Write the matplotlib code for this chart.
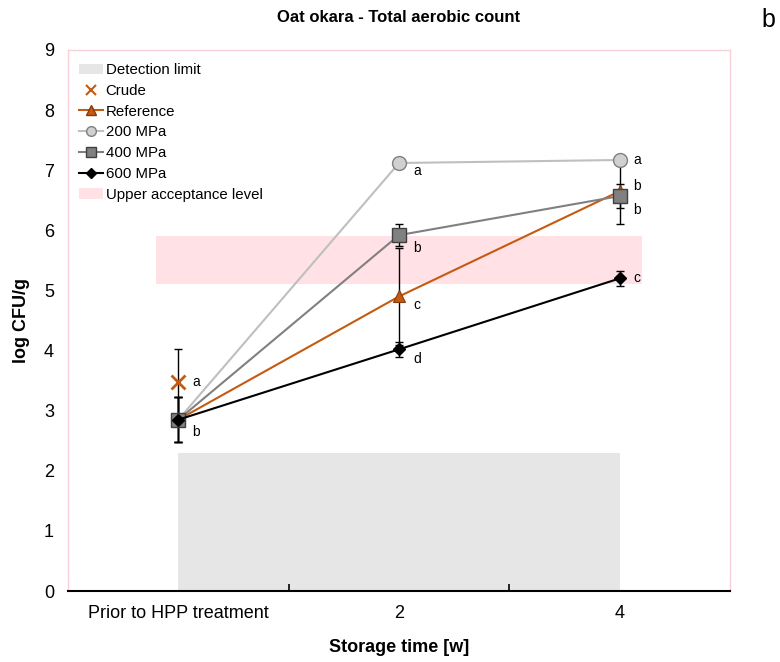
import matplotlib
matplotlib.use("Agg")
import matplotlib.pyplot as plt
from matplotlib.patches import Patch
from matplotlib.lines import Line2D

plt.rcParams['font.family'] = ['Liberation Sans', 'DejaVu Sans']

categories = ["Prior to HPP treatment", "2", "4"]
crude = [3.48]
crude_err = [0.55]
reference = [2.85, 4.90, 6.65]
reference_err = [0.37, 0.80, 0.55]
mpa200 = [2.85, 7.12, 7.17]
mpa200_err = [0.37, 0.05, 0.08]
mpa400 = [2.85, 5.92, 6.57]
mpa400_err = [0.37, 0.18, 0.20]
mpa600 = [2.85, 4.02, 5.20]
mpa600_err = [0.37, 0.12, 0.12]
detection_limit = 2.3
acceptance_low, acceptance_high = 5.1, 5.9

orange = "#C55A11"
x = [0.5, 1.5, 2.5]

fig = plt.figure(figsize=(7.8, 6.62), dpi=100)
ax = fig.add_axes([68/780, 1-591/662, (730-68)/780, (591-50)/662])

# detection limit & acceptance band
ax.fill_between([x[0], x[2]], 0, detection_limit, color="#E6E6E6", lw=0, zorder=1)
ax.fill_between([0.4, 2.6], acceptance_low, acceptance_high, color="#FFE1E6", lw=0, zorder=1)

eb = dict(fmt='none', ecolor='black', elinewidth=1.0, capsize=3, capthick=1.0, zorder=3)
ax.errorbar(x, reference, yerr=reference_err, **eb)
ax.errorbar(x, mpa200, yerr=mpa200_err, **eb)
ax.errorbar(x, mpa400, yerr=mpa400_err, **eb)
ax.errorbar(x, mpa600, yerr=mpa600_err, **eb)
ax.errorbar(x[:1], crude, yerr=crude_err, **eb)

ax.plot(x, mpa200, '-o', color="#BFBFBF", lw=1.5, ms=10, mfc="#D0D0D0", mec="#808080", mew=1, zorder=4)
ax.plot(x, reference, '-^', color=orange, lw=1.5, ms=9, mfc=orange, mec="#843C0C", mew=0.8, zorder=5)
ax.plot(x, mpa400, '-s', color="#808080", lw=1.5, ms=9.5, mfc="#808080", mec="#404040", mew=1, zorder=6)
ax.plot(x, mpa600, '-D', color="black", lw=1.5, ms=6, mfc="black", mec="black", zorder=7)
ax.plot(x[:1], crude, 'x', color=orange, ms=10, mew=2, zorder=7)

def lab(txt, xi, v, dy):
    ax.annotate(txt, (xi, v), xytext=(10, dy), textcoords='offset points',
                fontsize=10, va='center', ha='left', zorder=8)

lab("a", x[0], crude[0], 0)
lab("b", x[0], mpa600[0], -9)
lab("a", x[1], mpa200[1], -6)
lab("b", x[1], mpa400[1], -9)
lab("c", x[1], reference[1], -6)
lab("d", x[1], mpa600[1], -7)
lab("a", x[2], mpa200[2], 0)
lab("b", x[2], mpa400[2], 7)
lab("b", x[2], mpa400[2], -10)
lab("c", x[2], mpa600[2], 0)

ax.set_xlim(0, 3)
ax.set_ylim(0, 9)
ax.set_yticks(range(0, 10))
ax.tick_params(axis='y', length=0, labelsize=13, pad=10)
ax.set_xticks(x)
ax.set_xticklabels(categories)
ax.tick_params(axis='x', which='major', length=0, labelsize=13, pad=10)
ax.set_xticks([1, 2], minor=True)
ax.tick_params(axis='x', which='minor', length=5, direction='in', width=1.2)

for s in ['top', 'right', 'left']:
    ax.spines[s].set_color("#FAD0D8")
    ax.spines[s].set_linewidth(1)
ax.spines['bottom'].set_color('black')
ax.spines['bottom'].set_linewidth(1.5)
ax.spines['bottom'].set_zorder(9)

ax.set_ylabel("log CFU/g", fontsize=13, fontweight='bold', labelpad=10)
ax.set_xlabel("Storage time [w]", fontsize=13, fontweight='bold', labelpad=12)
fig.text(399/780, 1-18/662, "Oat okara - Total aerobic count", fontsize=12, fontweight='bold', ha='center', va='center')
fig.text(768/780, 1-20/662, "b", fontsize=18, ha='center', va='center')

handles = [
    Patch(facecolor="#E6E6E6", edgecolor='none'),
    Line2D([], [], ls='none', marker='x', color=orange, ms=7, mew=1.5),
    Line2D([], [], color=orange, marker='^', mfc=orange, mec="#843C0C", ms=7),
    Line2D([], [], color="#BFBFBF", marker='o', mfc="#D0D0D0", mec="#808080", ms=7),
    Line2D([], [], color="#808080", marker='s', mfc="#808080", mec="#404040", ms=7),
    Line2D([], [], color="black", marker='D', mfc="black", ms=5),
    Patch(facecolor="#FFE1E6", edgecolor='none'),
]
names = ["Detection limit", "Crude", "Reference", "200 MPa", "400 MPa", "600 MPa", "Upper acceptance level"]
leg = ax.legend(handles, names, loc='upper left', bbox_to_anchor=(0.0, 0.995), frameon=False,
                fontsize=10.8, handlelength=1.6, handletextpad=0.2, labelspacing=0.45, borderaxespad=0.3)

fig.savefig("out.png", dpi=100)
